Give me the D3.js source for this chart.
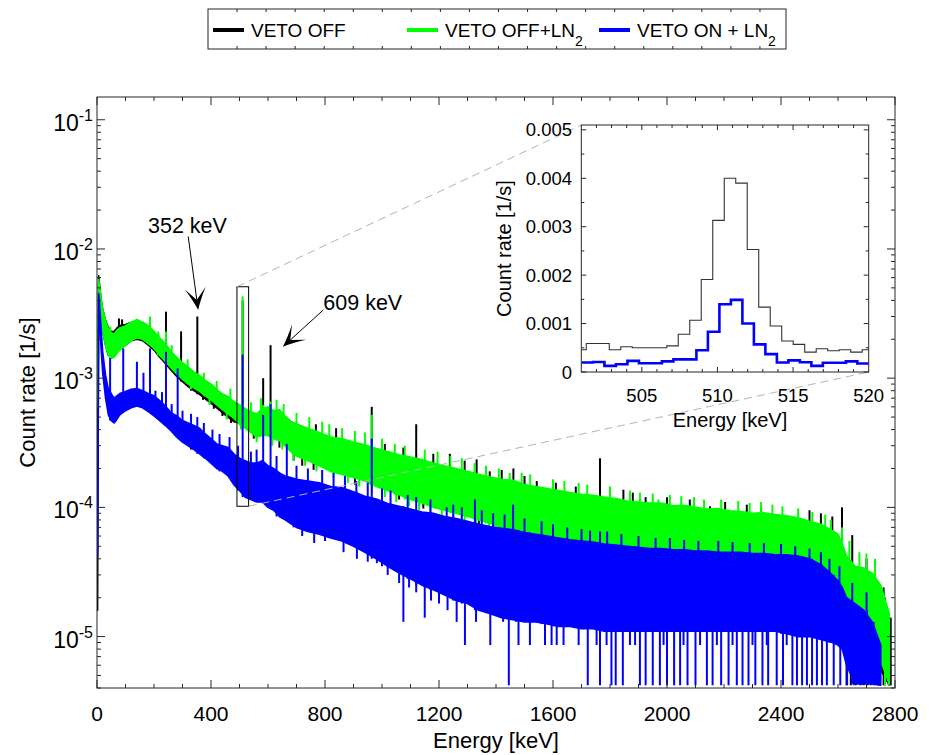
<!DOCTYPE html>
<html><head><meta charset="utf-8">
<script src="https://cdn.jsdelivr.net/npm/d3@7"></script>
<style>body{margin:0;background:#fff}svg{display:block;font-family:"Liberation Sans",Arial,Helvetica,sans-serif}</style>
</head><body><svg id="c" width="931" height="755"></svg>
<script>
// ---------------- DATA ----------------
const energyGrid = [2,6,10,15,20,30,40,50,60,70,80,
 100,120,140,160,180,200,220,240,260,280,300,320,340,360,380,400,420,440,460,480,500,520,540,560,580,600,620,640,660,680,700,
 740,780,820,860,900,940,980,1020,1060,1100,1140,1180,1220,1260,1300,1340,1380,1420,1460,1500,1540,1580,1620,1660,1700,1740,1780,1820,1860,1900,1940,1980,2020,2060,2100,2140,2180,2220,2260,2300,2340,2380,2420,2460,2500,2540,2580,
 2600,2615,2630,2660,2690,2720,2750,2780];

const blackHi = [1.0e-3,6.2e-3,5.0e-3,4.0e-3,3.4e-3,2.8e-3,2.45e-3,2.3e-3,2.3e-3,2.45e-3,2.55e-3,
 2.6e-3,2.7e-3,2.8e-3,2.7e-3,2.5e-3,2.25e-3,2.0e-3,1.8e-3,1.58e-3,1.42e-3,1.3e-3,1.2e-3,1.1e-3,1.03e-3,9.5e-4,8.8e-4,8.1e-4,7.5e-4,7.1e-4,6.5e-4,6.1e-4,5.7e-4,5.4e-4,5.2e-4,5.6e-4,5.8e-4,5.5e-4,5.6e-4,5.0e-4,4.6e-4,4.4e-4,
 4.0e-4,3.7e-4,3.45e-4,3.3e-4,3.1e-4,3.0e-4,2.8e-4,2.65e-4,2.5e-4,2.4e-4,2.3e-4,2.15e-4,2.05e-4,1.95e-4,1.85e-4,1.75e-4,1.68e-4,1.6e-4,1.57e-4,1.46e-4,1.41e-4,1.36e-4,1.31e-4,1.27e-4,1.23e-4,1.2e-4,1.17e-4,1.14e-4,1.09e-4,1.07e-4,1.05e-4,1.05e-4,1.0e-4,1.01e-4,9.7e-5,9.4e-5,9.5e-5,9.1e-5,9.0e-5,8.7e-5,8.8e-5,8.5e-5,8.3e-5,8.0e-5,7.5e-5,7.1e-5,6.4e-5,
 6.0e-5,5.0e-5,4.0e-5,3.4e-5,3.3e-5,3.0e-5,2.4e-5,1.4e-5];
const blackLo = [1.6e-5,4.6e-3,3.6e-3,2.8e-3,2.3e-3,1.8e-3,1.5e-3,1.45e-3,1.5e-3,1.6e-3,1.7e-3,
 1.8e-3,1.95e-3,2.0e-3,1.95e-3,1.8e-3,1.65e-3,1.45e-3,1.3e-3,1.15e-3,1.03e-3,9.4e-4,8.6e-4,8.0e-4,7.5e-4,6.9e-4,6.4e-4,5.9e-4,5.4e-4,5.0e-4,4.6e-4,4.5e-4,4.2e-4,3.85e-4,3.55e-4,3.65e-4,3.65e-4,3.45e-4,3.35e-4,3.05e-4,2.75e-4,2.55e-4,
 2.35e-4,2.15e-4,1.95e-4,1.85e-4,1.74e-4,1.63e-4,1.48e-4,1.38e-4,1.28e-4,1.17e-4,1.1e-4,1.02e-4,9.7e-5,9.2e-5,8.7e-5,8.2e-5,7.7e-5,7.2e-5,6.75e-5,6.35e-5,6.1e-5,5.8e-5,5.5e-5,5.1e-5,4.9e-5,4.8e-5,4.6e-5,4.4e-5,4.3e-5,4.2e-5,4.1e-5,4.1e-5,4.0e-5,4.1e-5,4.0e-5,3.9e-5,3.9e-5,3.8e-5,3.8e-5,3.7e-5,3.6e-5,3.5e-5,3.3e-5,3.1e-5,2.9e-5,2.5e-5,2.2e-5,
 1.7e-5,1.4e-5,1.1e-5,9e-6,8e-6,7e-6,5.5e-6,4.2e-6];

const greenHi = [1.0e-3,5.8e-3,5.0e-3,4.0e-3,3.4e-3,2.8e-3,2.4e-3,2.25e-3,2.2e-3,2.35e-3,2.45e-3,
 2.55e-3,2.7e-3,2.85e-3,2.7e-3,2.55e-3,2.3e-3,2.05e-3,1.85e-3,1.6e-3,1.45e-3,1.32e-3,1.22e-3,1.12e-3,1.05e-3,9.6e-4,9.0e-4,8.2e-4,7.5e-4,7.2e-4,6.6e-4,6.2e-4,5.8e-4,5.5e-4,5.3e-4,5.8e-4,6.0e-4,5.6e-4,5.7e-4,5.1e-4,4.6e-4,4.4e-4,
 4.1e-4,3.8e-4,3.5e-4,3.4e-4,3.2e-4,3.05e-4,2.85e-4,2.7e-4,2.55e-4,2.45e-4,2.35e-4,2.2e-4,2.1e-4,2.0e-4,1.9e-4,1.8e-4,1.72e-4,1.65e-4,1.62e-4,1.5e-4,1.45e-4,1.4e-4,1.35e-4,1.3e-4,1.26e-4,1.24e-4,1.2e-4,1.17e-4,1.12e-4,1.1e-4,1.08e-4,1.08e-4,1.03e-4,1.04e-4,1.0e-4,9.7e-5,9.8e-5,9.4e-5,9.3e-5,9.0e-5,9.1e-5,8.8e-5,8.6e-5,8.3e-5,7.8e-5,7.4e-5,6.6e-5,
 6.2e-5,5.2e-5,4.2e-5,3.5e-5,3.4e-5,3.1e-5,2.5e-5,1.5e-5];
const greenLo = [6e-4,4.5e-3,3.6e-3,2.8e-3,2.3e-3,1.8e-3,1.5e-3,1.42e-3,1.45e-3,1.55e-3,1.65e-3,
 1.8e-3,1.95e-3,2.05e-3,2.0e-3,1.85e-3,1.7e-3,1.5e-3,1.35e-3,1.2e-3,1.08e-3,9.8e-4,9.0e-4,8.4e-4,7.9e-4,7.3e-4,6.8e-4,6.2e-4,5.7e-4,5.3e-4,4.9e-4,4.4e-4,4.1e-4,3.8e-4,3.5e-4,3.6e-4,3.6e-4,3.4e-4,3.3e-4,3.0e-4,2.7e-4,2.5e-4,
 2.3e-4,2.1e-4,1.9e-4,1.8e-4,1.7e-4,1.6e-4,1.45e-4,1.35e-4,1.25e-4,1.15e-4,1.08e-4,1.0e-4,9.5e-5,9.0e-5,8.5e-5,8.0e-5,7.5e-5,7.0e-5,6.6e-5,6.2e-5,6.0e-5,5.7e-5,5.4e-5,5.0e-5,4.8e-5,4.7e-5,4.5e-5,4.3e-5,4.2e-5,4.1e-5,4.0e-5,4.0e-5,3.9e-5,4.0e-5,3.9e-5,3.8e-5,3.8e-5,3.7e-5,3.7e-5,3.6e-5,3.5e-5,3.4e-5,3.2e-5,3.0e-5,2.8e-5,2.4e-5,2.1e-5,
 1.9e-5,1.6e-5,1.3e-5,1.1e-5,9.5e-6,8.5e-6,6.5e-6,4.3e-6];

const blueHi = [4.2e-5,4.5e-3,3.4e-3,2.3e-3,1.6e-3,1.05e-3,8.2e-4,7.6e-4,7.0e-4,7.3e-4,7.6e-4,
 7.9e-4,8.2e-4,8.3e-4,8.0e-4,7.6e-4,7.3e-4,6.7e-4,6.1e-4,5.4e-4,5.1e-4,4.7e-4,4.5e-4,4.3e-4,4.1e-4,3.7e-4,3.4e-4,3.1e-4,3.0e-4,2.9e-4,2.6e-4,2.4e-4,2.3e-4,2.2e-4,2.2e-4,2.3e-4,2.1e-4,2.0e-4,1.85e-4,1.75e-4,1.7e-4,1.65e-4,
 1.6e-4,1.55e-4,1.45e-4,1.42e-4,1.32e-4,1.22e-4,1.16e-4,1.07e-4,1.02e-4,9.7e-5,9.2e-5,9.0e-5,8.5e-5,8.2e-5,7.8e-5,7.4e-5,7.1e-5,6.9e-5,6.7e-5,6.4e-5,6.2e-5,6.0e-5,5.8e-5,5.6e-5,5.5e-5,5.4e-5,5.2e-5,5.1e-5,5.0e-5,4.9e-5,4.8e-5,4.8e-5,4.7e-5,4.7e-5,4.6e-5,4.6e-5,4.5e-5,4.5e-5,4.5e-5,4.4e-5,4.4e-5,4.3e-5,4.3e-5,4.2e-5,4.0e-5,3.6e-5,3.0e-5,
 2.7e-5,2.4e-5,2.0e-5,1.8e-5,1.6e-5,1.3e-5,8.6e-6,null];
const blueLo = [4.2e-5,3.4e-3,2.5e-3,1.6e-3,1.1e-3,7.0e-4,5.2e-4,4.7e-4,4.5e-4,4.8e-4,5.2e-4,
 5.6e-4,5.9e-4,6.1e-4,5.9e-4,5.5e-4,5.1e-4,4.7e-4,4.3e-4,3.9e-4,3.5e-4,3.2e-4,3.0e-4,2.8e-4,2.6e-4,2.4e-4,2.2e-4,2.0e-4,1.9e-4,1.75e-4,1.5e-4,1.35e-4,1.2e-4,1.15e-4,1.1e-4,1.1e-4,1.0e-4,9.5e-5,8.5e-5,8.0e-5,7.5e-5,7.0e-5,
 6.5e-5,6.2e-5,5.8e-5,5.5e-5,5.0e-5,4.5e-5,4.0e-5,3.5e-5,3.1e-5,2.8e-5,2.5e-5,2.3e-5,2.1e-5,1.9e-5,1.8e-5,1.6e-5,1.5e-5,1.4e-5,1.35e-5,1.3e-5,1.3e-5,1.25e-5,1.2e-5,1.2e-5,1.15e-5,1.15e-5,1.1e-5,1.1e-5,1.1e-5,1.1e-5,1.1e-5,1.1e-5,1.1e-5,1.1e-5,1.1e-5,1.1e-5,1.1e-5,1.1e-5,1.1e-5,1.1e-5,1.1e-5,1.1e-5,1.05e-5,1.0e-5,1.0e-5,9.5e-6,9e-6,
 8.6e-6,8e-6,6e-6,4.3e-6,4.3e-6,4.3e-6,4.2e-6,null];

// narrow lines and noise spikes above the band (energy keV, count rate 1/s)
const blackPeaks = [[77,2.9e-3],[88,2.85e-3],[186,2.5e-3],[242,3.27e-3],[295,2.3e-3],[352,3.0e-3],[511,4.0e-3],[583,1.0e-3],[609,1.8e-3],[666,4.3e-4],[768,4.4e-4],[839,4.1e-4],[900,3.2e-4],[964,6.0e-4],[1010,3.1e-4],[1075,2.9e-4],[1120,4.4e-4],[1180,2.6e-4],[1238,2.6e-4],[1290,2.3e-4],[1332,2.35e-4],[1378,1.9e-4],[1420,1.95e-4],[1461,2.0e-4],[1500,1.75e-4],[1543,1.6e-4],[1610,1.55e-4],[1680,1.45e-4],[1765,2.4e-4],[1847,1.37e-4],[1880,1.3e-4],[1925,1.2e-4],[2000,1.2e-4],[2080,1.15e-4],[2151,1.02e-4],[2204,1.1e-4],[2280,1.05e-4],[2330,1.0e-4],[2440,8.5e-5],[2500,9.5e-5],[2540,9.0e-5],[2580,8.5e-5],[2614,1.0e-4],[2650,6.1e-5],[2700,4.0e-5],[2765,2.0e-5]];
const greenPeaks = [[46,2.5e-3],[186,3.0e-3],[215,2.3e-3],[242,2.3e-3],[262,1.8e-3],[318,1.4e-3],[375,1.1e-3],[420,9.5e-4],[468,8.3e-4],[511,4.3e-3],[540,6.5e-4],[575,7.0e-4],[583,6.2e-4],[609,6.6e-4],[630,6.8e-4],[655,6.3e-4],[700,5.4e-4],[745,5.0e-4],[790,4.6e-4],[815,4.4e-4],[860,4.1e-4],[905,3.9e-4],[940,3.8e-4],[964,5.2e-4],[1000,3.4e-4],[1045,3.1e-4],[1080,3.0e-4],[1150,2.8e-4],[1195,2.7e-4],[1240,2.5e-4],[1280,2.4e-4],[1325,2.2e-4],[1365,2.1e-4],[1410,2.0e-4],[1448,1.85e-4],[1490,1.85e-4],[1520,1.8e-4],[1600,1.65e-4],[1640,1.6e-4],[1690,1.55e-4],[1720,1.5e-4],[1800,1.45e-4],[1870,1.35e-4],[1905,1.3e-4],[1950,1.28e-4],[1970,1.15e-4],[2010,1.25e-4],[2050,1.22e-4],[2095,1.2e-4],[2130,1.15e-4],[2190,1.15e-4],[2250,1.12e-4],[2290,1.08e-4],[2330,1.1e-4],[2370,1.05e-4],[2405,1.02e-4],[2460,9.8e-5],[2510,9.2e-5],[2555,8.8e-5],[2575,8.0e-5],[2614,7.0e-5],[2640,5.5e-5],[2675,4.5e-5],[2700,4.4e-5],[2730,4.0e-5]];
const bluePeaks = [[46,1.43e-3],[92,1.7e-3],[140,1.34e-3],[163,1.1e-3],[186,1.7e-3],[205,8.0e-4],[228,7.8e-4],[242,1.6e-3],[262,6.3e-4],[283,1.19e-3],[300,5.6e-4],[330,5.3e-4],[352,5.0e-4],[375,4.5e-4],[405,4.0e-4],[430,3.7e-4],[465,3.5e-4],[495,3.0e-4],[511,1.52e-3],[540,2.7e-4],[560,2.8e-4],[583,5.2e-4],[609,6.3e-4],[630,2.5e-4],[666,3.1e-4],[700,2.1e-4],[740,2.0e-4],[790,1.95e-4],[830,1.85e-4],[870,1.75e-4],[910,1.6e-4],[950,1.55e-4],[964,3.4e-4],[1000,1.4e-4],[1030,1.35e-4],[1090,1.25e-4],[1120,1.2e-4],[1170,1.15e-4],[1227,1.0e-4],[1250,1.05e-4],[1280,1.0e-4],[1326,1.15e-4],[1350,9.5e-5],[1390,9.0e-5],[1430,8.8e-5],[1460,1.05e-4],[1500,8.2e-5],[1560,7.8e-5],[1600,7.4e-5],[1650,7.0e-5],[1700,6.8e-5],[1730,6.6e-5],[1765,6.5e-5],[1790,6.5e-5],[1840,6.2e-5],[1900,6.0e-5],[1960,5.8e-5],[2010,5.8e-5],[2060,5.6e-5],[2110,5.5e-5],[2180,5.5e-5],[2230,5.4e-5],[2290,5.3e-5],[2340,5.3e-5],[2400,5.2e-5],[2450,5.0e-5],[2500,4.8e-5],[2540,4.5e-5],[2570,4.0e-5],[2605,3.5e-5],[2650,2.6e-5],[2700,2.2e-5]];
// downward noise / low-count dips
const blackDips = [[330,8.0e-4],[372,6.8e-4],[410,5.8e-4],[440,5.1e-4],[470,4.5e-4],[550,3.4e-4],[640,2.9e-4],[690,2.3e-4],[720,2.1e-4],[760,1.95e-4],[905,1.5e-4],[1060,1.15e-4],[1145,9.8e-5],[1340,7.3e-5],[1390,6.9e-5],[2630,4.2e-6],[2645,4.2e-6],[2662,4.2e-6],[2690,4.2e-6],[2715,4.2e-6],[2740,4.2e-6],[2760,4.2e-6],[2785,4.2e-6]];
const greenDips = [[330,8.2e-4],[395,6.2e-4],[455,4.8e-4],[505,4.0e-4],[560,3.2e-4],[615,3.0e-4],[650,2.8e-4],[690,2.3e-4],[730,2.1e-4],[770,1.9e-4],[830,1.7e-4],[880,1.55e-4],[920,1.45e-4],[965,1.3e-4],[1010,1.2e-4],[1050,1.1e-4],[1095,1.02e-4],[1130,9.5e-5],[1170,8.8e-5],[1210,8.3e-5],[1250,7.8e-5],[1290,7.4e-5],[1330,7.0e-5],[1375,6.6e-5],[1410,6.2e-5],[1455,5.8e-5],[1490,5.5e-5],[1530,5.2e-5],[2680,4.2e-6],[2705,4.2e-6],[2728,4.2e-6],[2748,4.2e-6],[2765,4.2e-6],[2778,4.2e-6]];
const blueDips = [[690,7e-5],[720,6e-5],[762,5.3e-5],[800,5.5e-5],[865,4.5e-5],[912,4.0e-5],[950,3.8e-5],[982,3.7e-5],[1020,3.0e-5],[1060,2.6e-5],[1095,2.4e-5],[1120,2.2e-5],[1172,1.9e-5],[1200,1.8e-5],[1230,1.6e-5],
 [1075,1.3e-5],[1150,1.4e-5],[1262,1.3e-5],[1330,1.3e-5],[1425,1.3e-5],[1470,1.3e-5],
 [1291,8.6e-6],[1380,8.6e-6],[1479,8.6e-6],[1519,8.6e-6],[1572,8.6e-6],[1595,8.6e-6],[1613,8.6e-6],[1637,8.6e-6],[1690,8.6e-6],[1753,8.6e-6],[1788,8.6e-6],[1870,8.6e-6],[1888,8.6e-6],[1988,8.6e-6],[2058,8.6e-6],[2116,8.6e-6],[2175,8.6e-6],[2230,8.6e-6],[2300,8.6e-6],[2350,8.6e-6],[2420,8.6e-6],
 [1445,4.2e-6],[1722,4.2e-6],[1765,4.2e-6],[1805,4.2e-6],[1820,4.2e-6],[1845,4.2e-6],[1905,4.2e-6],[1925,4.2e-6],[1950,4.2e-6],[1975,4.2e-6],[2000,4.2e-6],[2025,4.2e-6],[2046,4.2e-6],[2072,4.2e-6],[2100,4.2e-6],[2140,4.2e-6],[2160,4.2e-6],[2190,4.2e-6],[2216,4.2e-6],[2245,4.2e-6],[2265,4.2e-6],[2286,4.2e-6],[2310,4.2e-6],[2335,4.2e-6],[2355,4.2e-6],[2385,4.2e-6],[2407,4.2e-6],[2440,4.2e-6],[2456,4.2e-6],[2474,4.2e-6],[2491,4.2e-6],[2509,4.2e-6],[2526,4.2e-6],[2544,4.2e-6],[2561,4.2e-6],[2585,4.2e-6],[2608,4.2e-6],[2632,4.2e-6],[2655,4.2e-6],[2679,4.2e-6],[2702,4.2e-6],[2725,4.2e-6]];

// inset: 511 keV region, histogram bins (left edge keV, rate 1/s)
const insetBlackEdges = [500.57,501.33,502.09,502.85,503.61,504.37,505.13,505.89,506.65,507.41,508.17,508.93,509.69,510.45,511.21,511.97,512.73,513.49,514.25,515.01,515.77,516.53,517.29,518.05,518.81,519.57];
const insetBlackRates = [4.6e-4,5.9e-4,5.9e-4,4.6e-4,5.2e-4,5.0e-4,5.0e-4,5.0e-4,5.4e-4,7.8e-4,1.07e-3,1.91e-3,3.13e-3,4.0e-3,3.9e-3,2.53e-3,1.34e-3,9.5e-4,6.4e-4,5.7e-4,4.1e-4,4.8e-4,4.4e-4,4.6e-4,4.1e-4,4.6e-4];
const insetBlueEdges = [501.01,501.77,502.53,503.29,504.05,504.81,505.57,506.33,507.09,507.85,508.61,509.37,510.13,510.89,511.65,512.41,513.17,513.93,514.69,515.45,516.21,516.97,517.73,518.49,519.25];
const insetBlueRates = [1.96e-4,2.08e-4,1.26e-4,1.6e-4,2.3e-4,1.8e-4,1.8e-4,2.2e-4,2.6e-4,2.6e-4,4.5e-4,8.3e-4,1.40e-3,1.49e-3,1.0e-3,5.7e-4,3.7e-4,1.96e-4,2.4e-4,2.0e-4,1.26e-4,1.9e-4,1.9e-4,2.2e-4,1.75e-4];

const xTicks = [0,400,800,1200,1600,2000,2400,2800];
const yTickExps = [-5,-4,-3,-2,-1];
const insetXTicks = [505,510,515,520];
const insetYTicks = [0,0.001,0.002,0.003,0.004,0.005];
const insetYTickLabels = ["0","0.001","0.002","0.003","0.004","0.005"];
const legendNames = ["VETO OFF","VETO OFF+LN","VETO ON + LN"];
const legendSubs = ["","2","2"];
const seriesColors = ["#000000","#00ff00","#0000ff"];
const zoomBox = [491,532,1.02e-4,5.1e-3]; // keV from, keV to, rate from, rate to
const annotations = [
  {text:"352 keV", tx:179, ty:1.32e-2, x1:320, y1:1.25e-2, x2:355, y2:3.37e-3},
  {text:"609 keV", tx:794, ty:3.37e-3, x1:794, y1:3.37e-3, x2:652, y2:1.75e-3}
];

// ---------------- DRAWING ----------------
const svg = d3.select('#c');
const M = {l:97, r:895, t:97, b:688};
const x = d3.scaleLinear().domain([0,2800]).range([M.l,M.r]);
const y = d3.scaleLog().domain([4e-6,0.15]).range([M.b,M.t]);
const axisCol = '#262626';

const defs = svg.append('defs');
defs.append('clipPath').attr('id','mainclip')
  .append('rect').attr('x',M.l).attr('y',M.t).attr('width',M.r-M.l).attr('height',M.b-M.t);

const g = svg.append('g').attr('clip-path','url(#mainclip)');

function nearestIdx(e){ return d3.bisectCenter(energyGrid, e); }
function drawSeries(hi, lo, peaks, dips, col){
  const pts = energyGrid.map((e,i)=>({e, hi:hi[i], lo:lo[i]}));
  const area = d3.area().defined(d=>d.hi!=null)
    .x(d=>x(d.e)).y0(d=>y(d.lo)).y1(d=>y(d.hi));
  g.append('path').attr('d',area(pts)).attr('fill',col)
    .attr('stroke',col).attr('stroke-width',1.6).attr('stroke-linejoin','round');
  g.selectAll(null).data(peaks).enter().append('line')
    .attr('x1',d=>x(d[0])).attr('x2',d=>x(d[0]))
    .attr('y1',d=>y(lo[nearestIdx(d[0])] || d[1])).attr('y2',d=>y(d[1]))
    .attr('stroke',col).attr('stroke-width',2);
  g.selectAll(null).data(dips).enter().append('line')
    .attr('x1',d=>x(d[0])).attr('x2',d=>x(d[0]))
    .attr('y1',d=>y(hi[nearestIdx(d[0])] || lo[nearestIdx(d[0])] || d[1])).attr('y2',d=>y(d[1]))
    .attr('stroke',col).attr('stroke-width',2);
}
drawSeries(blackHi, blackLo, blackPeaks, blackDips, seriesColors[0]);
drawSeries(greenHi, greenLo, greenPeaks, greenDips, seriesColors[1]);
drawSeries(blueHi, blueLo, bluePeaks, blueDips, seriesColors[2]);

// axes box and ticks
svg.append('rect').attr('x',M.l).attr('y',M.t).attr('width',M.r-M.l).attr('height',M.b-M.t)
  .attr('fill','none').attr('stroke',axisCol).attr('stroke-width',1);
const tk = svg.append('g').attr('stroke',axisCol).attr('stroke-width',1);
d3.range(0,2801,100).forEach(v=>{
  const L = (v%400===0)?8:4;
  tk.append('line').attr('x1',x(v)).attr('x2',x(v)).attr('y1',M.b).attr('y2',M.b-L);
  tk.append('line').attr('x1',x(v)).attr('x2',x(v)).attr('y1',M.t).attr('y2',M.t+L);
});
[-6,-5,-4,-3,-2,-1].forEach(d=>{
  for(let k=1;k<10;k++){
    const v = k*Math.pow(10,d);
    if(v<4e-6||v>0.15) continue;
    const L = k===1?8:4;
    tk.append('line').attr('x1',M.l).attr('x2',M.l+L).attr('y1',y(v)).attr('y2',y(v));
    tk.append('line').attr('x1',M.r).attr('x2',M.r-L).attr('y1',y(v)).attr('y2',y(v));
  }
});
// tick labels
xTicks.forEach(v=>{
  svg.append('text').attr('x',x(v)).attr('y',721).attr('text-anchor','middle')
    .attr('font-size',21).attr('fill','#000').text(v);
});
yTickExps.forEach(e=>{
  const t = svg.append('text').attr('x',93).attr('y',y(Math.pow(10,e))+11)
    .attr('text-anchor','end').attr('font-size',23).attr('fill','#000');
  t.append('tspan').text('10');
  t.append('tspan').attr('dy',-10).attr('font-size',16).text(String(e));
});
svg.append('text').attr('x',(M.l+M.r)/2).attr('y',748).attr('text-anchor','middle')
  .attr('font-size',22).attr('fill','#000').text('Energy [keV]');
svg.append('text').attr('transform',`translate(35,${(M.t+M.b)/2}) rotate(-90)`)
  .attr('text-anchor','middle').attr('font-size',22).attr('fill','#000').text('Count rate [1/s]');

// zoom rectangle and annotations
svg.append('rect').attr('x',x(zoomBox[0])).attr('y',y(zoomBox[3]))
  .attr('width',x(zoomBox[1])-x(zoomBox[0])).attr('height',y(zoomBox[2])-y(zoomBox[3]))
  .attr('fill','none').attr('stroke','#000').attr('stroke-width',1);

function arrow(x1,y1,x2,y2){
  const a = Math.atan2(y2-y1,x2-x1), ux=Math.cos(a), uy=Math.sin(a), nx=-uy, ny=ux;
  const L=22, W=10.5, N=10;
  svg.append('line').attr('x1',x1).attr('y1',y1).attr('x2',x2-ux*N).attr('y2',y2-uy*N)
    .attr('stroke','#000').attr('stroke-width',1);
  const tip=[x2,y2], bl=[x2-ux*L+nx*W,y2-uy*L+ny*W], br=[x2-ux*L-nx*W,y2-uy*L-ny*W], nt=[x2-ux*N,y2-uy*N];
  const c1=[x2-ux*L*0.45+nx*W*0.35, y2-uy*L*0.45+ny*W*0.35];
  const c2=[x2-ux*L*0.45-nx*W*0.35, y2-uy*L*0.45-ny*W*0.35];
  const d = `M${tip}Q${c1} ${bl}L${nt}L${br}Q${c2} ${tip}Z`;
  svg.append('path').attr('d',d).attr('fill','#000');
}
annotations.forEach(a=>{
  svg.append('text').attr('x',x(a.tx)).attr('y',y(a.ty)).attr('font-size',21.5).attr('fill','#000').text(a.text);
  arrow(x(a.x1),y(a.y1),x(a.x2),y(a.y2));
});

// inset
const I = {l:581.3, r:868.7, t:125, b:372};
const ix = d3.scaleLinear().domain([501,520]).range([I.l,I.r]);
const iy = d3.scaleLinear().domain([0,0.0051]).range([I.b,I.t]);
const dash = svg.append('g').attr('stroke','#b4b4b4').attr('stroke-width',1).attr('stroke-dasharray','8,5');
dash.append('line').attr('x1',x(zoomBox[0])).attr('y1',y(zoomBox[3])).attr('x2',I.l).attr('y2',I.t);
dash.append('line').attr('x1',x(zoomBox[1])).attr('y1',y(zoomBox[2])).attr('x2',I.r).attr('y2',I.b);

svg.append('rect').attr('x',I.l).attr('y',I.t).attr('width',I.r-I.l).attr('height',I.b-I.t).attr('fill','#fff');
defs.append('clipPath').attr('id','insetclip')
  .append('rect').attr('x',I.l).attr('y',I.t).attr('width',I.r-I.l).attr('height',I.b-I.t);
const ig = svg.append('g').attr('clip-path','url(#insetclip)');
function steps(edges, rates, col, w){
  const pts = edges.map((e,i)=>[e,rates[i]]);
  pts.push([edges[edges.length-1]+(edges[1]-edges[0]), rates[rates.length-1]]);
  const ln = d3.line().curve(d3.curveStepAfter).x(d=>ix(d[0])).y(d=>iy(d[1]));
  ig.append('path').attr('d',ln(pts)).attr('fill','none').attr('stroke',col).attr('stroke-width',w);
}
steps(insetBlackEdges, insetBlackRates, '#333', 1.1);
steps(insetBlueEdges, insetBlueRates, '#0000ff', 2.6);
svg.append('rect').attr('x',I.l).attr('y',I.t).attr('width',I.r-I.l).attr('height',I.b-I.t)
  .attr('fill','none').attr('stroke',axisCol).attr('stroke-width',1);
const itk = svg.append('g').attr('stroke',axisCol).attr('stroke-width',1);
d3.range(502,520,1).forEach(v=>{
  const L = insetXTicks.includes(v)?5:3;
  itk.append('line').attr('x1',ix(v)).attr('x2',ix(v)).attr('y1',I.b).attr('y2',I.b-L);
  itk.append('line').attr('x1',ix(v)).attr('x2',ix(v)).attr('y1',I.t).attr('y2',I.t+L);
});
d3.range(0,0.0051,0.0005).forEach((v,i)=>{
  const L = i%2===0?5:3;
  itk.append('line').attr('x1',I.l).attr('x2',I.l+L).attr('y1',iy(v)).attr('y2',iy(v));
  itk.append('line').attr('x1',I.r).attr('x2',I.r-L).attr('y1',iy(v)).attr('y2',iy(v));
});
insetXTicks.forEach(v=>{
  svg.append('text').attr('x',ix(v)).attr('y',402).attr('text-anchor','middle')
    .attr('font-size',18.5).attr('fill','#000').text(v);
});
insetYTicks.forEach((v,i)=>{
  svg.append('text').attr('x',572).attr('y',iy(v)+6.5).attr('text-anchor','end')
    .attr('font-size',18.5).attr('fill','#000').text(insetYTickLabels[i]);
});
svg.append('text').attr('x',(I.l+I.r)/2+5).attr('y',427).attr('text-anchor','middle')
  .attr('font-size',20).attr('fill','#000').text('Energy [keV]');
svg.append('text').attr('transform',`translate(511,${(I.t+I.b)/2}) rotate(-90)`)
  .attr('text-anchor','middle').attr('font-size',20).attr('fill','#000').text('Count rate [1/s]');

// legend
const LG = {l:208, r:786, t:9, b:49};
svg.append('rect').attr('x',LG.l).attr('y',LG.t).attr('width',LG.r-LG.l).attr('height',LG.b-LG.t)
  .attr('fill','#fff').attr('stroke',axisCol).attr('stroke-width',1);
const ltk = svg.append('g').attr('stroke',axisCol).attr('stroke-width',1);
for(let k=1;k<20;k++){
  const xx = LG.l + 29.05*k;
  ltk.append('line').attr('x1',xx).attr('x2',xx).attr('y1',LG.t).attr('y2',LG.t+3);
  ltk.append('line').attr('x1',xx).attr('x2',xx).attr('y1',LG.b).attr('y2',LG.b-3);
}
const legX = [213,407,599];
legendNames.forEach((nm,i)=>{
  svg.append('line').attr('x1',legX[i]).attr('x2',legX[i]+31).attr('y1',30).attr('y2',30)
    .attr('stroke',seriesColors[i]).attr('stroke-width',4);
  const t = svg.append('text').attr('x',legX[i]+38).attr('y',37).attr('font-size',19).attr('fill','#000');
  t.append('tspan').text(nm);
  if(legendSubs[i]) t.append('tspan').attr('dy',9).attr('font-size',14).text(legendSubs[i]);
});
</script></body></html>
